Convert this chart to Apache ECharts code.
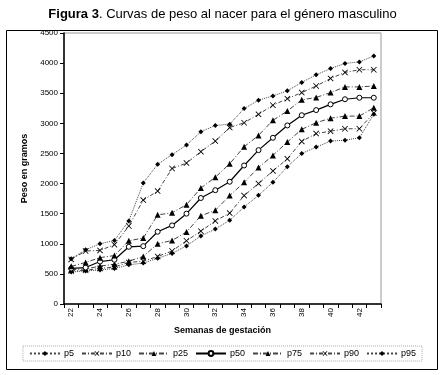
<!DOCTYPE html>
<html>
<head>
<meta charset="utf-8">
<script src="https://cdn.jsdelivr.net/npm/echarts@6/dist/echarts.min.js"></script>
<style>
  html, body { margin: 0; padding: 0; background: #fff; }
  #chart { width: 445px; height: 375px; }
</style>
</head>
<body>
<div id="chart"></div>
<script>
// semanas de gestación
const weeks = ['22', '23', '24', '25', '26', '27', '28', '29', '30', '31', '32',
  '33', '34', '35', '36', '37', '38', '39', '40', '41', '42', '43'];
const yTicks = [0, 500, 1000, 1500, 2000, 2500, 3000, 3500, 4000, 4500];

// percentiles (gramos)
const p5 = [530, 550, 565, 590, 650, 680, 760, 840, 965, 1130, 1245, 1390, 1610, 1805, 2020, 2280, 2500, 2605, 2705, 2720, 2760, 3150];
const p10 = [550, 560, 590, 615, 690, 710, 790, 880, 1050, 1210, 1380, 1510, 1800, 2000, 2210, 2410, 2700, 2830, 2870, 2910, 2910, 3170];
const p25 = [570, 580, 630, 660, 710, 790, 1000, 1055, 1195, 1465, 1556, 1800, 2020, 2265, 2467, 2690, 2900, 3010, 3085, 3120, 3120, 3260];
const p50 = [590, 605, 705, 735, 950, 960, 1200, 1305, 1500, 1760, 1890, 2030, 2300, 2555, 2760, 2965, 3135, 3220, 3315, 3400, 3425, 3425];
const p75 = [625, 690, 770, 805, 1050, 1095, 1480, 1515, 1650, 1925, 2105, 2330, 2610, 2800, 3050, 3205, 3390, 3430, 3510, 3605, 3605, 3620];
const p90 = [740, 880, 890, 985, 1295, 1725, 1875, 2250, 2340, 2530, 2705, 2930, 3010, 3150, 3300, 3410, 3510, 3620, 3745, 3845, 3890, 3890];
const p95 = [750, 900, 1000, 1055, 1380, 2010, 2320, 2480, 2640, 2860, 2965, 2985, 3245, 3385, 3455, 3540, 3680, 3805, 3910, 3995, 4020, 4120];

const FONT = '"Liberation Sans", Arial, sans-serif';
const CROSS = 'path://M0,1L1,0L5,4L9,0L10,1L6,5L10,9L9,10L5,6L1,10L0,9L4,5Z';

function mkSeries(name, data, symbol, dash, size) {
  return {
    name: name,
    type: 'line',
    data: data,
    symbol: symbol,
    symbolSize: size,
    lineStyle: { color: '#444', width: 1, type: dash },
    itemStyle: { color: '#000' },
    emphasis: { disabled: true },
    animation: false
  };
}

const series = [
  mkSeries('p5', p5, 'diamond', 'dotted', 5),
  mkSeries('p10', p10, CROSS, [4, 2, 1, 2], 6),
  mkSeries('p25', p25, 'triangle', [5, 2, 1, 2], 6),
  {
    name: 'p50',
    type: 'line',
    data: p50,
    symbol: 'circle',
    symbolSize: 5,
    lineStyle: { color: '#000', width: 1.2, type: 'solid' },
    itemStyle: { color: '#fff', borderColor: '#000', borderWidth: 1 },
    emphasis: { disabled: true },
    animation: false
  },
  mkSeries('p75', p75, 'triangle', [5, 2, 1, 2], 6),
  mkSeries('p90', p90, CROSS, [4, 2, 1, 2], 6),
  mkSeries('p95', p95, 'diamond', 'dotted', 5)
];

const chart = echarts.init(document.getElementById('chart'));
chart.setOption({
  animation: false,
  backgroundColor: '#fff',
  title: {
    text: '{b|Figura 3}. Curvas de peso al nacer para el género masculino',
    left: 'center',
    top: 3,
    textStyle: {
      fontFamily: FONT,
      fontSize: 13,
      fontWeight: 'normal',
      color: '#000',
      rich: {
        b: { fontFamily: FONT, fontSize: 13, fontWeight: 'bold', color: '#000' }
      }
    }
  },
  graphic: [{
    type: 'rect',
    shape: { x: 6.5, y: 30.5, width: 431, height: 339 },
    style: { fill: 'none', stroke: '#000', lineWidth: 1 },
    silent: true
  }],
  legend: {
    data: ['p5', 'p10', 'p25', 'p50', 'p75', 'p90', 'p95'],
    left: 'center',
    top: 346,
    itemWidth: 30,
    itemHeight: 6,
    itemGap: 7,
    padding: [3, 6],
    borderColor: '#aaa',
    borderWidth: 1,
    borderType: 'dotted',
    textStyle: { fontFamily: FONT, fontSize: 9, color: '#000', padding: [0, 0, 0, -1] }
  },
  grid: {
    left: 64,
    right: 64,
    top: 33,
    bottom: 71,
    show: true,
    borderColor: '#999',
    borderWidth: 1
  },
  xAxis: {
    type: 'category',
    data: weeks,
    boundaryGap: true,
    name: 'Semanas de gestación',
    nameLocation: 'middle',
    nameGap: 22,
    nameTextStyle: { fontFamily: FONT, fontSize: 9, fontWeight: 'bold', color: '#000' },
    axisLine: { lineStyle: { color: '#000', width: 1.5 } },
    axisTick: { show: true, interval: 0, length: 4, lineStyle: { color: '#000' } },
    axisLabel: { interval: 1, rotate: 90, fontFamily: FONT, fontSize: 8, color: '#000', margin: 4 },
    splitLine: { show: false }
  },
  yAxis: {
    type: 'value',
    min: yTicks[0],
    max: yTicks[yTicks.length - 1],
    interval: 500,
    name: 'Peso en gramos',
    nameLocation: 'middle',
    nameGap: 34,
    nameTextStyle: { fontFamily: FONT, fontSize: 9, fontWeight: 'bold', color: '#000' },
    axisLine: { show: true, lineStyle: { color: '#000', width: 1.5 } },
    axisTick: { show: true, length: 4, lineStyle: { color: '#000' } },
    axisLabel: { fontFamily: FONT, fontSize: 8, color: '#000', margin: 6, formatter: v => String(v) },
    splitLine: { show: false }
  },
  series: series
});
</script>
</body>
</html>
